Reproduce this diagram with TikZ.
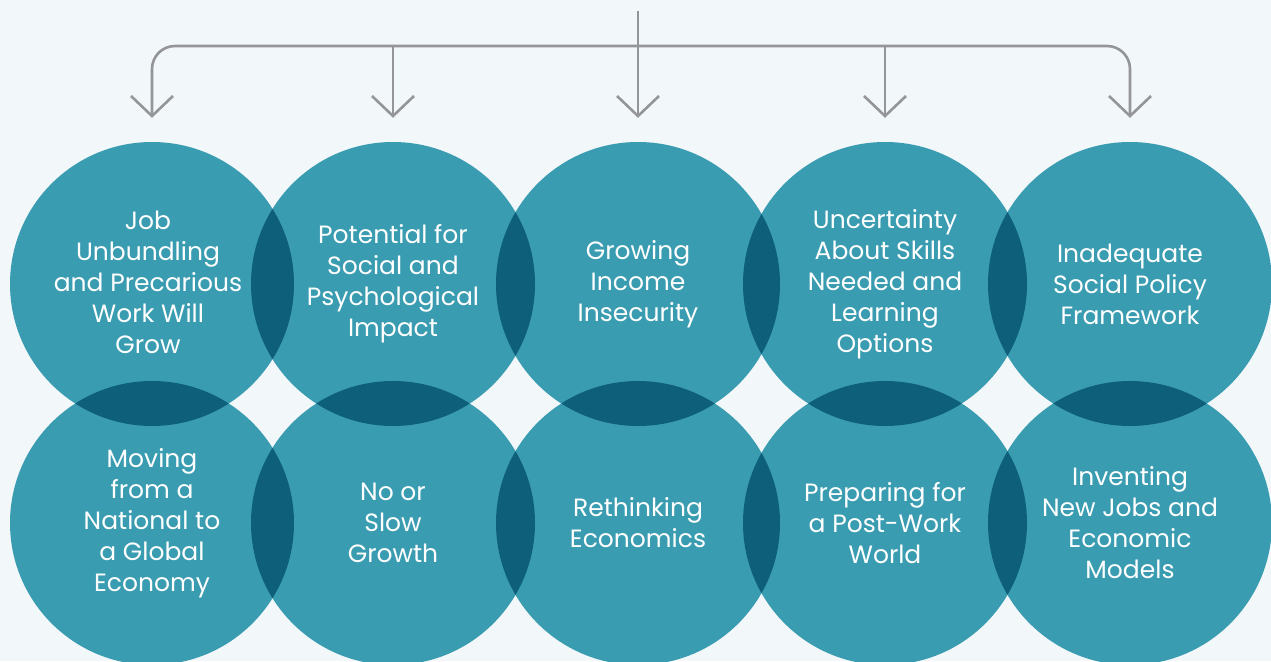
\documentclass[tikz,border=0pt]{standalone}
\usepackage{fontspec}
\setmainfont{Poppins}
\usetikzlibrary{arrows.meta}

\definecolor{bgpale}{HTML}{F2F7FA}
\definecolor{tealfill}{HTML}{3A9CB1}
\definecolor{tealdark}{HTML}{0E5F7A}
\definecolor{arrgray}{HTML}{939598}

\begin{document}
\begin{tikzpicture}[x=1pt,y=-1pt,
		blob/.style={circle,fill=tealfill,minimum size=284pt,inner sep=0pt},
		lbl/.style={text=white,align=center,inner sep=0pt,font=\fontsize{25}{31}\selectfont},
		conn/.style={draw=arrgray,line width=2.6pt,-{Straight Barb[length=20pt,width=42pt]},shorten >=24pt}]
		\fill[bgpale] (0,0) rectangle (1271,661);
		\useasboundingbox (0,0) rectangle (1271,661);
		% top row
		\node[blob] (t1) at (152,284) {};
		\node[blob] (t2) at (393,284) {};
		\node[blob] (t3) at (638,284) {};
		\node[blob] (t4) at (885,284) {};
		\node[blob] (t5) at (1130,284) {};
		% bottom row
		\node[blob] (d1) at (152,523) {};
		\node[blob] (d2) at (393,523) {};
		\node[blob] (d3) at (638,523) {};
		\node[blob] (d4) at (885,523) {};
		\node[blob] (d5) at (1130,523) {};
		% overlaps
		\foreach \a/\b in {t1/t2,t2/t3,t3/t4,t4/t5,d1/d2,d2/d3,d3/d4,d4/d5,t1/d1,t2/d2,t3/d3,t4/d4,t5/d5} {
			\begin{scope}
				\clip (\a.center) circle (142pt);
				\fill[tealdark] (\b.center) circle (142pt);
			\end{scope}
		}
		% labels
		\node[lbl] (t1txt) at (148,282) {Job\\Unbundling\\and Precarious\\Work Will\\Grow};
		\node[lbl] (t2txt) at (t2) {Potential for\\Social and\\Psychological\\Impact};
		\node[lbl] (t3txt) at (t3) {Growing\\Income\\Insecurity};
		\node[lbl] (t4txt) at (t4) {Uncertainty\\About Skills\\Needed and\\Learning\\Options};
		\node[lbl] (t5txt) at (t5) {Inadequate\\Social Policy\\Framework};
		\node[lbl] (d1txt) at (d1) {Moving\\from a\\National to\\a Global\\Economy};
		\node[lbl] (d2txt) at (d2) {No or\\Slow\\Growth};
		\node[lbl] (d3txt) at (d3) {Rethinking\\Economics};
		\node[lbl] (d4txt) at (d4) {Preparing for\\a Post-Work\\World};
		\node[lbl] (d5txt) at (d5) {Inventing\\New Jobs and\\Economic\\Models};
		% arrows
		\coordinate (src) at (638,11);
		\coordinate (hub) at (638,46);
		\draw[conn] (src) -- (t3.north);
		\draw[conn,rounded corners=23pt] (hub) -| (t1.north);
		\draw[conn,rounded corners=23pt] (hub) -| (t5.north);
		\draw[conn] (t2.north |- hub) -- (t2.north);
		\draw[conn] (t4.north |- hub) -- (t4.north);
\end{tikzpicture}
\end{document}
